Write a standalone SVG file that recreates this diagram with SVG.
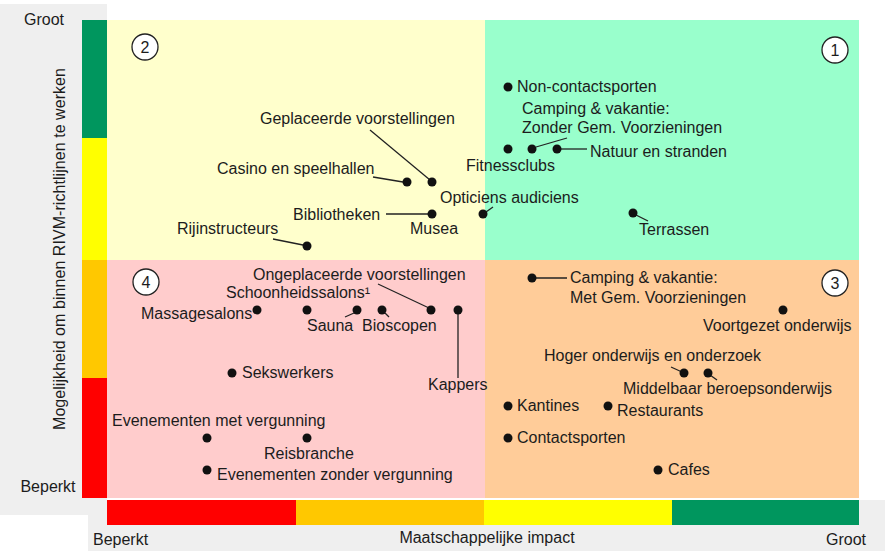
<svg xmlns="http://www.w3.org/2000/svg" width="885" height="551" viewBox="0 0 885 551">
<style>
text{font-family:"Liberation Sans",Arial,sans-serif;font-size:16px;fill:#1c1c1c}
.dot{fill:#111}
.ld{stroke:#222;stroke-width:1.3;fill:none}
.num{fill:#fff;stroke:#222;stroke-width:1.3}
.nt{text-anchor:middle;font-size:16px}
</style>
<rect width="885" height="551" fill="#fff"/>
<g id="background">
<rect x="0" y="4" width="107" height="511" fill="#efefef"/>
<rect x="88" y="500" width="797" height="51" fill="#efefef"/>
</g>
<g id="y-axis">
<rect x="82" y="20" width="25" height="118" fill="#00965e"/>
<rect x="82" y="138" width="25" height="122" fill="#ffff00"/>
<rect x="82" y="260" width="25" height="118" fill="#ffc800"/>
<rect x="82" y="378" width="25" height="120" fill="#ff0000"/>
<text x="44" y="25" text-anchor="middle">Groot</text>
<text x="48" y="492" text-anchor="middle">Beperkt</text>
<text transform="translate(65,249) rotate(-90)" text-anchor="middle" textLength="362">Mogelijkheid om binnen RIVM-richtlijnen te werken</text>
</g>
<g id="x-axis">
<rect x="107" y="500" width="189" height="25" fill="#ff0000"/>
<rect x="296" y="500" width="188" height="25" fill="#ffc800"/>
<rect x="484" y="500" width="188" height="25" fill="#ffff00"/>
<rect x="672" y="500" width="187" height="25" fill="#00965e"/>
<text x="93" y="545">Beperkt</text>
<text x="487" y="543" text-anchor="middle">Maatschappelijke impact</text>
<text x="826" y="545">Groot</text>
</g>
<g id="quadrants">
<rect x="107" y="20" width="378" height="240" fill="#ffffcc"/>
<rect x="485" y="20" width="374" height="240" fill="#99ffcc"/>
<rect x="107" y="260" width="378" height="238" fill="#ffcccc"/>
<rect x="485" y="260" width="374" height="238" fill="#ffcc99"/>
</g>
<g id="quadrant-numbers">
<g id="q1"><circle class="num" cx="835" cy="50" r="13"/><text class="nt" x="835" y="56">1</text></g>
<g id="q2"><circle class="num" cx="145" cy="47" r="13"/><text class="nt" x="145" y="53">2</text></g>
<g id="q3"><circle class="num" cx="835" cy="283" r="13"/><text class="nt" x="835" y="289">3</text></g>
<g id="q4"><circle class="num" cx="146" cy="282" r="13"/><text class="nt" x="146" y="288">4</text></g>
</g>
<g id="connectors">
<path class="ld" d="M370 130 L430 180"/>
<path class="ld" d="M373 177 L403 182"/>
<path class="ld" d="M386 214 L428 214"/>
<path class="ld" d="M273 239 L303 245"/>
<path class="ld" d="M486 212 L493 207"/>
<path class="ld" d="M536 147 L567 138"/>
<path class="ld" d="M561 149 L587 149"/>
<path class="ld" d="M636 215 L648 221"/>
<path class="ld" d="M378 284 L429 308"/>
<path class="ld" d="M354 313 L345 317"/>
<path class="ld" d="M385 313 L389 317"/>
<path class="ld" d="M458 310 L458 378"/>
<path class="ld" d="M532 278 L567 278"/>
<path class="ld" d="M671 367 L682 372"/>
<path class="ld" d="M710 375 L717 380"/>
</g>
<g id="n-geplaceerde"><circle class="dot" cx="432" cy="182" r="4.5"/><text x="260" y="124">Geplaceerde voorstellingen</text></g>
<g id="n-casino"><circle class="dot" cx="407" cy="182" r="4.5"/><text x="217" y="174">Casino en speelhallen</text></g>
<g id="n-bibliotheken"><circle class="dot" cx="432" cy="214" r="4.5"/><text x="293" y="220">Bibliotheken</text></g>
<g id="n-musea"><text x="410" y="234">Musea</text></g>
<g id="n-rijinstructeurs"><circle class="dot" cx="307" cy="246" r="4.5"/><text x="177" y="234">Rijinstructeurs</text></g>
<g id="n-opticiens"><circle class="dot" cx="483" cy="214" r="4.5"/><text x="440" y="203">Opticiens audiciens</text></g>
<g id="n-noncontact"><circle class="dot" cx="508" cy="87" r="4.5"/><text x="517" y="92">Non-contactsporten</text></g>
<g id="n-camping-zonder"><circle class="dot" cx="532" cy="149" r="4.5"/><text x="522" y="114">Camping &amp; vakantie:</text><text x="522" y="133">Zonder Gem. Voorzieningen</text></g>
<g id="n-fitnessclubs"><circle class="dot" cx="508" cy="149" r="4.5"/><text x="466" y="171">Fitnessclubs</text></g>
<g id="n-natuur"><circle class="dot" cx="557" cy="149" r="4.5"/><text x="590" y="157">Natuur en stranden</text></g>
<g id="n-terrassen"><circle class="dot" cx="633" cy="213" r="4.5"/><text x="639" y="235">Terrassen</text></g>
<g id="n-ongeplaceerde"><circle class="dot" cx="431" cy="310" r="4.5"/><text x="253" y="280">Ongeplaceerde voorstellingen</text></g>
<g id="n-schoonheid"><circle class="dot" cx="307" cy="310" r="4.5"/><text x="226" y="298">Schoonheidssalons¹</text></g>
<g id="n-massage"><circle class="dot" cx="257" cy="310" r="4.5"/><text x="141" y="319">Massagesalons</text></g>
<g id="n-sauna"><circle class="dot" cx="357" cy="310" r="4.5"/><text x="307" y="331">Sauna</text></g>
<g id="n-bioscopen"><circle class="dot" cx="382" cy="310" r="4.5"/><text x="362" y="331">Bioscopen</text></g>
<g id="n-kappers"><circle class="dot" cx="458" cy="310" r="4.5"/><text x="428" y="390">Kappers</text></g>
<g id="n-sekswerkers"><circle class="dot" cx="232" cy="373" r="4.5"/><text x="242" y="378">Sekswerkers</text></g>
<g id="n-evenementen-met"><circle class="dot" cx="207" cy="438" r="4.5"/><text x="112" y="426">Evenementen met vergunning</text></g>
<g id="n-reisbranche"><circle class="dot" cx="307" cy="438" r="4.5"/><text x="264" y="459">Reisbranche</text></g>
<g id="n-evenementen-zonder"><circle class="dot" cx="207" cy="470" r="4.5"/><text x="217" y="480">Evenementen zonder vergunning</text></g>
<g id="n-camping-met"><circle class="dot" cx="532" cy="278" r="4.5"/><text x="570" y="283">Camping &amp; vakantie:</text><text x="570" y="303">Met Gem. Voorzieningen</text></g>
<g id="n-voortgezet"><circle class="dot" cx="783" cy="310" r="4.5"/><text x="703" y="331">Voortgezet onderwijs</text></g>
<g id="n-hoger"><circle class="dot" cx="684" cy="373" r="4.5"/><text x="544" y="361">Hoger onderwijs en onderzoek</text></g>
<g id="n-mbo"><circle class="dot" cx="708" cy="373" r="4.5"/><text x="623" y="394">Middelbaar beroepsonderwijs</text></g>
<g id="n-kantines"><circle class="dot" cx="508" cy="406" r="4.5"/><text x="517" y="411">Kantines</text></g>
<g id="n-restaurants"><circle class="dot" cx="608" cy="406" r="4.5"/><text x="617" y="416">Restaurants</text></g>
<g id="n-contactsporten"><circle class="dot" cx="508" cy="438" r="4.5"/><text x="517" y="443">Contactsporten</text></g>
<g id="n-cafes"><circle class="dot" cx="658" cy="470" r="4.5"/><text x="668" y="475">Cafes</text></g>
</svg>
